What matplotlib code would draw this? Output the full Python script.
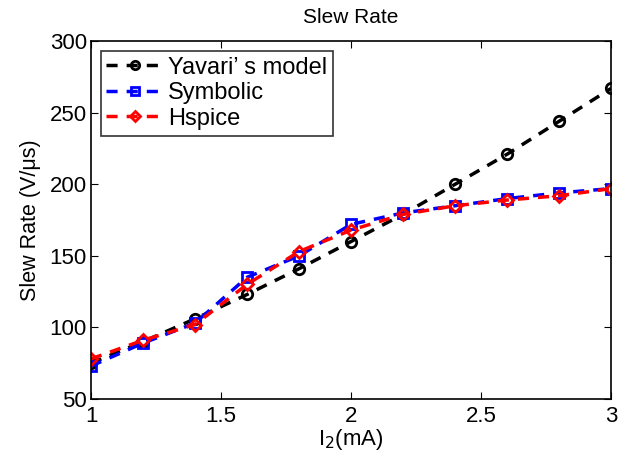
import matplotlib
matplotlib.use("Agg")
import matplotlib.pyplot as plt

plt.rcParams['font.family'] = ['Liberation Sans', 'DejaVu Sans']

x = [1.0, 1.2, 1.4, 1.6, 1.8, 2.0, 2.2, 2.4, 2.6, 2.8, 3.0]
yavari = [75, 90, 106, 123, 141, 160, 179, 200, 221, 244, 267]
symbolic = [73, 89, 103, 135, 150, 172, 180, 185, 190, 194, 197]
hspice = [78, 91, 102, 130, 153, 168, 179, 185, 189, 192, 197]

fig = plt.figure(figsize=(6.28, 4.58), dpi=100)
ax = fig.add_axes([0.145, 0.129, 0.828, 0.781])

ax.plot(x, yavari, color='black', ls='--', lw=2.5, marker='o', ms=7.5,
        mfc='none', mew=2, label="Yavari\u2019 s model", dashes=(3.2, 2.6))
ax.plot(x, symbolic, color='blue', ls='--', lw=2.5, marker='s', ms=7.5,
        mfc='none', mew=2, label='Symbolic', dashes=(3.2, 2.6))
ax.plot(x, hspice, color='red', ls='--', lw=2.5, marker='D', ms=6.5,
        mfc='none', mew=2, label='Hspice', dashes=(3.2, 2.6))

ax.set_xlim(1, 3)
ax.set_ylim(50, 300)
ax.set_xticks([1, 1.5, 2, 2.5, 3])
ax.set_xticklabels(['1', '1.5', '2', '2.5', '3'])
ax.set_yticks([50, 100, 150, 200, 250, 300])
ax.tick_params(direction='in', labelsize=16, length=5, top=True, right=True, pad=3)
ax.tick_params(axis='x', pad=5)
for s in ax.spines.values():
    s.set_linewidth(1.2)
ax.set_title('Slew Rate', fontsize=15, pad=13)
ax.set_xlabel('I$_2$(mA)', fontsize=16, labelpad=0)
ax.set_ylabel('Slew Rate (V/\u03bcs)', fontsize=15.5, labelpad=6)

leg = ax.legend(loc='upper left', fontsize=17, frameon=True, fancybox=False,
                edgecolor='black', handlelength=2.4, handletextpad=0.2,
                borderaxespad=0.4, labelspacing=0.15, borderpad=0.25,
                markerscale=0.8)
leg.get_frame().set_linewidth(1.2)

fig.savefig('out.png', dpi=100)
